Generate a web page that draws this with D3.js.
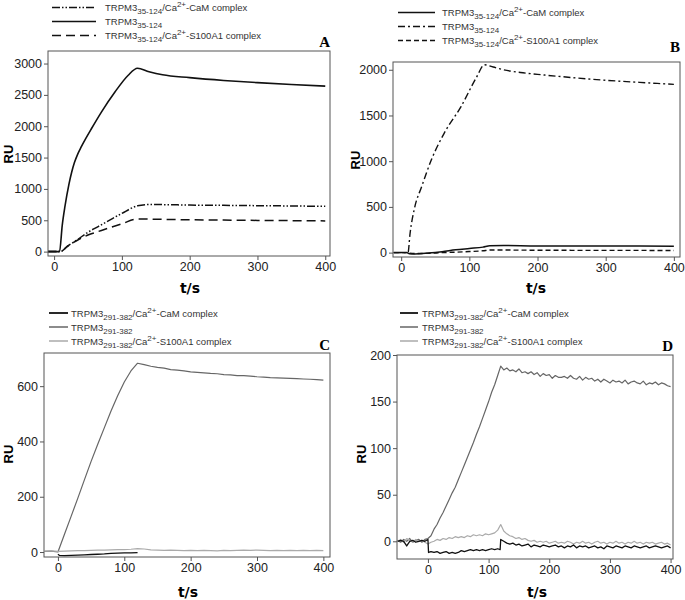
<!DOCTYPE html>
<html>
<head>
<meta charset="utf-8">
<script src="https://cdn.jsdelivr.net/npm/d3@7"></script>
<style>
  body { margin: 0; background: #fff; }
  svg { font-family: "Liberation Sans", Arial, sans-serif; }
  .tick text { font-family: "Liberation Sans", Arial, sans-serif; font-size: 12.5px; fill: #222; }
  .tick line { stroke: #555; }
  .legend text { font-size: 9.5px; fill: #333; }
</style>
</head>
<body>
<svg id="chart" width="685" height="600"></svg>
<script>
// ---- data, [t (s), RU] ----
var a_cam = [[-9,0],[9,0],[20,90],[35,195],[50,310],[65,400],[80,490],[100,610],[123,730],[140,752],[170,748],[200,742],[250,738],[300,733],[350,728],[400,722]];
var a_trpm = [[-9,0],[8,0],[12,420],[16,720],[22,1080],[26,1270],[30,1420],[35,1560],[40,1670],[47,1810],[55,1960],[70,2230],[90,2550],[109,2810],[123,2925],[140,2870],[160,2820],[200,2775],[250,2730],[300,2695],[350,2665],[400,2640]];
var a_s100 = [[-9,0],[9,0],[20,85],[35,185],[50,265],[65,320],[80,375],[100,445],[123,520],[140,518],[170,512],[200,508],[250,503],[300,498],[350,494],[400,490]];

var b_cam = [[-11,0],[8,0],[12,-12],[20,-15],[40,-5],[60,10],[80,30],[100,45],[120,60],[130,75],[150,78],[200,72],[250,72],[300,72],[350,72],[400,70]];
var b_trpm = [[-11,0],[9,0],[10,0],[13,208],[20,500],[30,720],[44,1010],[63,1305],[88,1600],[111,1925],[122,2055],[135,2030],[150,2000],[175,1970],[200,1950],[250,1915],[300,1885],[350,1862],[400,1840]];
var b_s100 = [[-11,0],[8,0],[12,-5],[20,-10],[40,-8],[60,0],[80,5],[100,12],[120,20],[130,28],[150,28],[200,26],[250,25],[300,24],[350,24],[400,23]];

var c_cam = [[0,-8],[2,-12],[10,-13],[20,-12],[30,-11],[40,-10],[50,-9],[60,-8],[70,-7],[80,-5],[90,-4],[100,-3],[110,-3],[120,-2]];
var c_trpm = [[-20,2],[-10,3],[0,0],[10,65],[20,130],[30,195],[40,262],[50,328],[60,390],[70,450],[80,510],[90,565],[100,615],[110,655],[120,683],[130,678],[140,672],[150,668],[160,665],[170,660],[180,658],[190,655],[200,652],[210,650],[220,648],[230,646],[240,645],[250,642],[260,641],[270,638],[280,638],[290,636],[300,634],[310,633],[320,631],[330,630],[340,629],[350,628],[360,627],[370,626],[380,625],[390,624],[400,622]];
var c_s100 = [[-20,3],[-10,4],[0,2],[10,3],[20,4],[30,5],[40,5],[50,6],[60,7],[70,7],[80,8],[90,9],[100,9],[110,10],[120,12],[130,11],[140,8],[150,7],[160,6],[170,7],[180,6],[190,5],[200,6],[210,5],[220,6],[230,5],[240,4],[250,6],[260,5],[270,6],[280,7],[290,6],[300,7],[310,6],[320,5],[330,6],[340,5],[350,6],[360,5],[370,6],[380,5],[390,6],[400,5]];

var d_trpm = [[-50,1],[-45,-1],[-40,2],[-35,0],[-30,3],[-25,-1],[-20,1],[-15,2],[-10,-1],[-5,2],[0,3],
  [5,6],[10,13],[15,18],[20,25],[25,31],[30,38],[35,45],[40,52],[45,58],[50,66],[55,74],[60,82],[65,90],[70,98],[75,106],[80,115],[85,123],[90,132],[95,141],[100,150],[105,160],[110,168],[115,178],[120,188],
  [125,184],[130,186],[135,183],[140,184],[145,182],[150,185],[155,181],[160,182],[165,180],[170,182],[175,179],[180,181],[185,177],[190,180],[195,178],[200,179],[205,175],[210,178],[215,176],[220,176],[225,177],[230,175],[235,178],[240,175],[245,174],[250,177],[255,173],[260,176],[265,174],[270,175],[275,172],[280,174],[285,171],[290,174],[295,172],[300,170],[305,173],[310,171],[315,172],[320,170],[325,173],[330,169],[335,171],[340,172],[345,170],[350,169],[355,172],[360,168],[365,170],[370,169],[375,171],[380,168],[385,170],[390,169],[395,167],[400,166]];
var d_s100 = [[-50,0],[-45,2],[-40,-1],[-35,3],[-30,1],[-25,-1],[-20,2],[-15,0],[-10,1],[-5,-1],[0,-3],
  [5,-1],[10,0],[15,2],[20,1],[25,3],[30,2],[35,4],[40,3],[45,5],[50,4],[55,5],[60,4],[65,6],[70,5],[75,7],[80,6],[85,7],[90,6],[95,8],[100,7],[105,8],[110,9],[115,12],[120,18],[125,11],[130,8],[135,6],[140,5],[145,3],[150,4],[155,2],[160,3],[165,1],[170,0],[175,1],[180,-1],[185,0],[190,-1],[195,0],[200,-2],[205,-1],[210,0],[215,-2],[220,-1],[225,-2],[230,0],[235,-1],[240,-3],[245,-1],[250,-2],[255,0],[260,-2],[265,-1],[270,-3],[275,-1],[280,0],[285,-2],[290,-1],[295,-3],[300,-1],[305,-2],[310,0],[315,-2],[320,-1],[325,-3],[330,-1],[335,-2],[340,0],[345,-2],[350,-1],[355,-3],[360,-1],[365,-2],[370,-1],[375,-3],[380,-2],[385,-1],[390,-3],[395,-2],[400,-4]];
var d_cam = [[-50,0],[-45,1],[-40,0],[-35,-5],[-30,0],[-25,1],[-20,-1],[-15,0],[-10,1],[-5,0],[0,2],[1,-12],
  [5,-11],[10,-12],[15,-11],[20,-13],[25,-12],[30,-11],[35,-13],[40,-12],[45,-13],[50,-12],[55,-10],[60,-11],[65,-10],[70,-9],[75,-10],[80,-9],[85,-10],[90,-9],[95,-10],[100,-9],[105,-8],[110,-9],[115,-8],[119,-9],[120,2],[125,0],[130,-2],[135,-3],[140,-2],[145,-4],[150,-3],[155,-5],[160,-4],[165,-3],[170,-6],[175,-4],[180,-5],[185,-6],[190,-4],[195,-5],[200,-6],[205,-5],[210,-4],[215,-6],[220,-5],[225,-7],[230,-5],[235,-6],[240,-4],[245,-7],[250,-5],[255,-6],[260,-5],[265,-7],[270,-6],[275,-5],[280,-7],[285,-6],[290,-8],[295,-5],[300,-6],[305,-7],[310,-5],[315,-6],[320,-7],[325,-5],[330,-6],[335,-7],[340,-5],[345,-6],[350,-7],[355,-6],[360,-5],[365,-7],[370,-6],[375,-5],[380,-6],[385,-7],[390,-6],[395,-5],[400,-7]];

var xTicks = [0, 100, 200, 300, 400];
var yTicksA = [0, 500, 1000, 1500, 2000, 2500, 3000];
var yTicksB = [0, 500, 1000, 1500, 2000];
var yTicksC = [0, 200, 400, 600];
var yTicksD = [0, 50, 100, 150, 200];

var lblN = {sub: "35-124"}, lblC = {sub: "291-382"};

var svg = d3.select("#chart");

// one panel; series listed in legend order, z gives drawing order
function panel(p) {
  var x = d3.scaleLinear().domain(p.xd).range([p.box[0], p.box[2]]);
  var y = d3.scaleLinear().domain(p.yd).range([p.box[3], p.box[1]]);
  var g = svg.append("g");

  g.append("g").attr("transform", "translate(0," + p.box[3] + ")")
    .call(d3.axisBottom(x).tickValues(xTicks).tickFormat(d3.format("d")).tickSize(4).tickSizeOuter(0).tickPadding(2))
    .call(function(s) { s.select(".domain").remove(); });
  g.append("g").attr("transform", "translate(" + p.box[0] + ",0)")
    .call(d3.axisLeft(y).tickValues(p.yt).tickFormat(d3.format("d")).tickSize(4).tickSizeOuter(0).tickPadding(2))
    .call(function(s) { s.select(".domain").remove(); });

  var line = d3.line().x(function(d) { return x(d[0]); }).y(function(d) { return y(d[1]); })
    .curve(p.smooth ? d3.curveMonotoneX : d3.curveLinear);

  p.series.slice().sort(function(a, b) { return (a.z || 0) - (b.z || 0); }).forEach(function(s) {
    g.append("path").datum(s.data)
      .attr("d", line)
      .attr("fill", "none")
      .attr("stroke", s.color)
      .attr("stroke-width", s.w)
      .attr("stroke-dasharray", s.dash || null)
      .attr("stroke-linejoin", "round");
  });

  g.append("rect")
    .attr("x", p.box[0]).attr("y", p.box[1])
    .attr("width", p.box[2] - p.box[0]).attr("height", p.box[3] - p.box[1])
    .attr("fill", "none").attr("stroke", "#555").attr("stroke-width", 1);

  // axis titles and panel letter
  g.append("text").attr("transform", "translate(" + p.ru[0] + "," + p.ru[1] + ") rotate(-90)")
    .attr("text-anchor", "middle").style("font-size", "13px").style("font-weight", "bold").text("RU");
  g.append("text").attr("x", p.ts[0]).attr("y", p.ts[1])
    .attr("text-anchor", "middle").style("font-family", "'DejaVu Sans', sans-serif")
    .style("font-size", "14px").style("font-weight", "bold").text("t/s");
  g.append("text").attr("x", p.letter[0]).attr("y", p.letter[1])
    .attr("text-anchor", "end").style("font-family", "'Liberation Serif', serif")
    .style("font-size", "15px").style("font-weight", "bold").text(p.name);

  // legend
  var lg = g.append("g").attr("class", "legend");
  p.series.forEach(function(s, i) {
    var ly = p.leg.y0 + i * p.leg.dy;
    lg.append("line").attr("x1", p.leg.x1).attr("x2", p.leg.x2).attr("y1", ly).attr("y2", ly)
      .attr("stroke", s.color).attr("stroke-width", s.lw || s.w).attr("stroke-dasharray", s.dash || null);
    var t = lg.append("text").attr("x", p.leg.tx).attr("y", ly + 3.5);
    t.append("tspan").text("TRPM3");
    t.append("tspan").attr("dy", 3).style("font-size", "8px").text(p.lab.sub);
    if (s.complex) {
      t.append("tspan").attr("dy", -3).text("/Ca");
      t.append("tspan").attr("dy", -4).style("font-size", "8px").text("2+");
      t.append("tspan").attr("dy", 4).text("-" + s.complex + " complex");
    }
  });
}

panel({
  name: "A", box: [48, 51, 330, 256], xd: [-9, 407], yd: [-70, 3200], yt: yTicksA, smooth: true,
  ru: [13, 154], ts: [190, 293], letter: [330, 47], lab: lblN,
  leg: {x1: 52, x2: 96, tx: 105, y0: 7.5, dy: 14},
  series: [
    {data: a_cam, color: "#111", w: 1.5, dash: "8,2,1.5,2,1.5,2", complex: "CaM"},
    {data: a_trpm, color: "#111", w: 1.6},
    {data: a_s100, color: "#111", w: 1.5, dash: "9,5", complex: "S100A1"}
  ]
});

panel({
  name: "B", box: [393, 62, 680, 257], xd: [-12, 409], yd: [-48, 2085], yt: yTicksB, smooth: true,
  ru: [360, 160], ts: [536, 293], letter: [680, 52], lab: lblN,
  leg: {x1: 398, x2: 435, tx: 442, y0: 12.5, dy: 14},
  series: [
    {data: b_cam, color: "#111", w: 1.5, complex: "CaM"},
    {data: b_trpm, color: "#111", w: 1.4, dash: "7,3,2,3"},
    {data: b_s100, color: "#111", w: 1.4, dash: "5,3", complex: "S100A1"}
  ]
});

panel({
  name: "C", box: [44, 353, 330, 557], xd: [-21, 410], yd: [-18, 720], yt: yTicksC, smooth: false,
  ru: [13, 454], ts: [188, 597], letter: [330, 350], lab: lblC,
  leg: {x1: 49, x2: 68, tx: 71, y0: 313, dy: 14},
  series: [
    {data: c_cam, color: "#111", w: 1.3, lw: 1.8, complex: "CaM", z: 3},
    {data: c_trpm, color: "#666", w: 1.2, lw: 1.5, z: 1},
    {data: c_s100, color: "#aaa", w: 1.2, lw: 1.5, complex: "S100A1", z: 2}
  ]
});

panel({
  name: "D", box: [397, 355, 673, 559], xd: [-51, 404], yd: [-19, 200], yt: yTicksD, smooth: false,
  ru: [366, 454], ts: [537, 597], letter: [673, 351], lab: lblC,
  leg: {x1: 400, x2: 418, tx: 422, y0: 313, dy: 14},
  series: [
    {data: d_cam, color: "#111", w: 1.3, lw: 1.8, complex: "CaM", z: 3},
    {data: d_trpm, color: "#666", w: 1.2, lw: 1.5, z: 1},
    {data: d_s100, color: "#aaa", w: 1.2, lw: 1.5, complex: "S100A1", z: 2}
  ]
});
</script>
</body>
</html>
